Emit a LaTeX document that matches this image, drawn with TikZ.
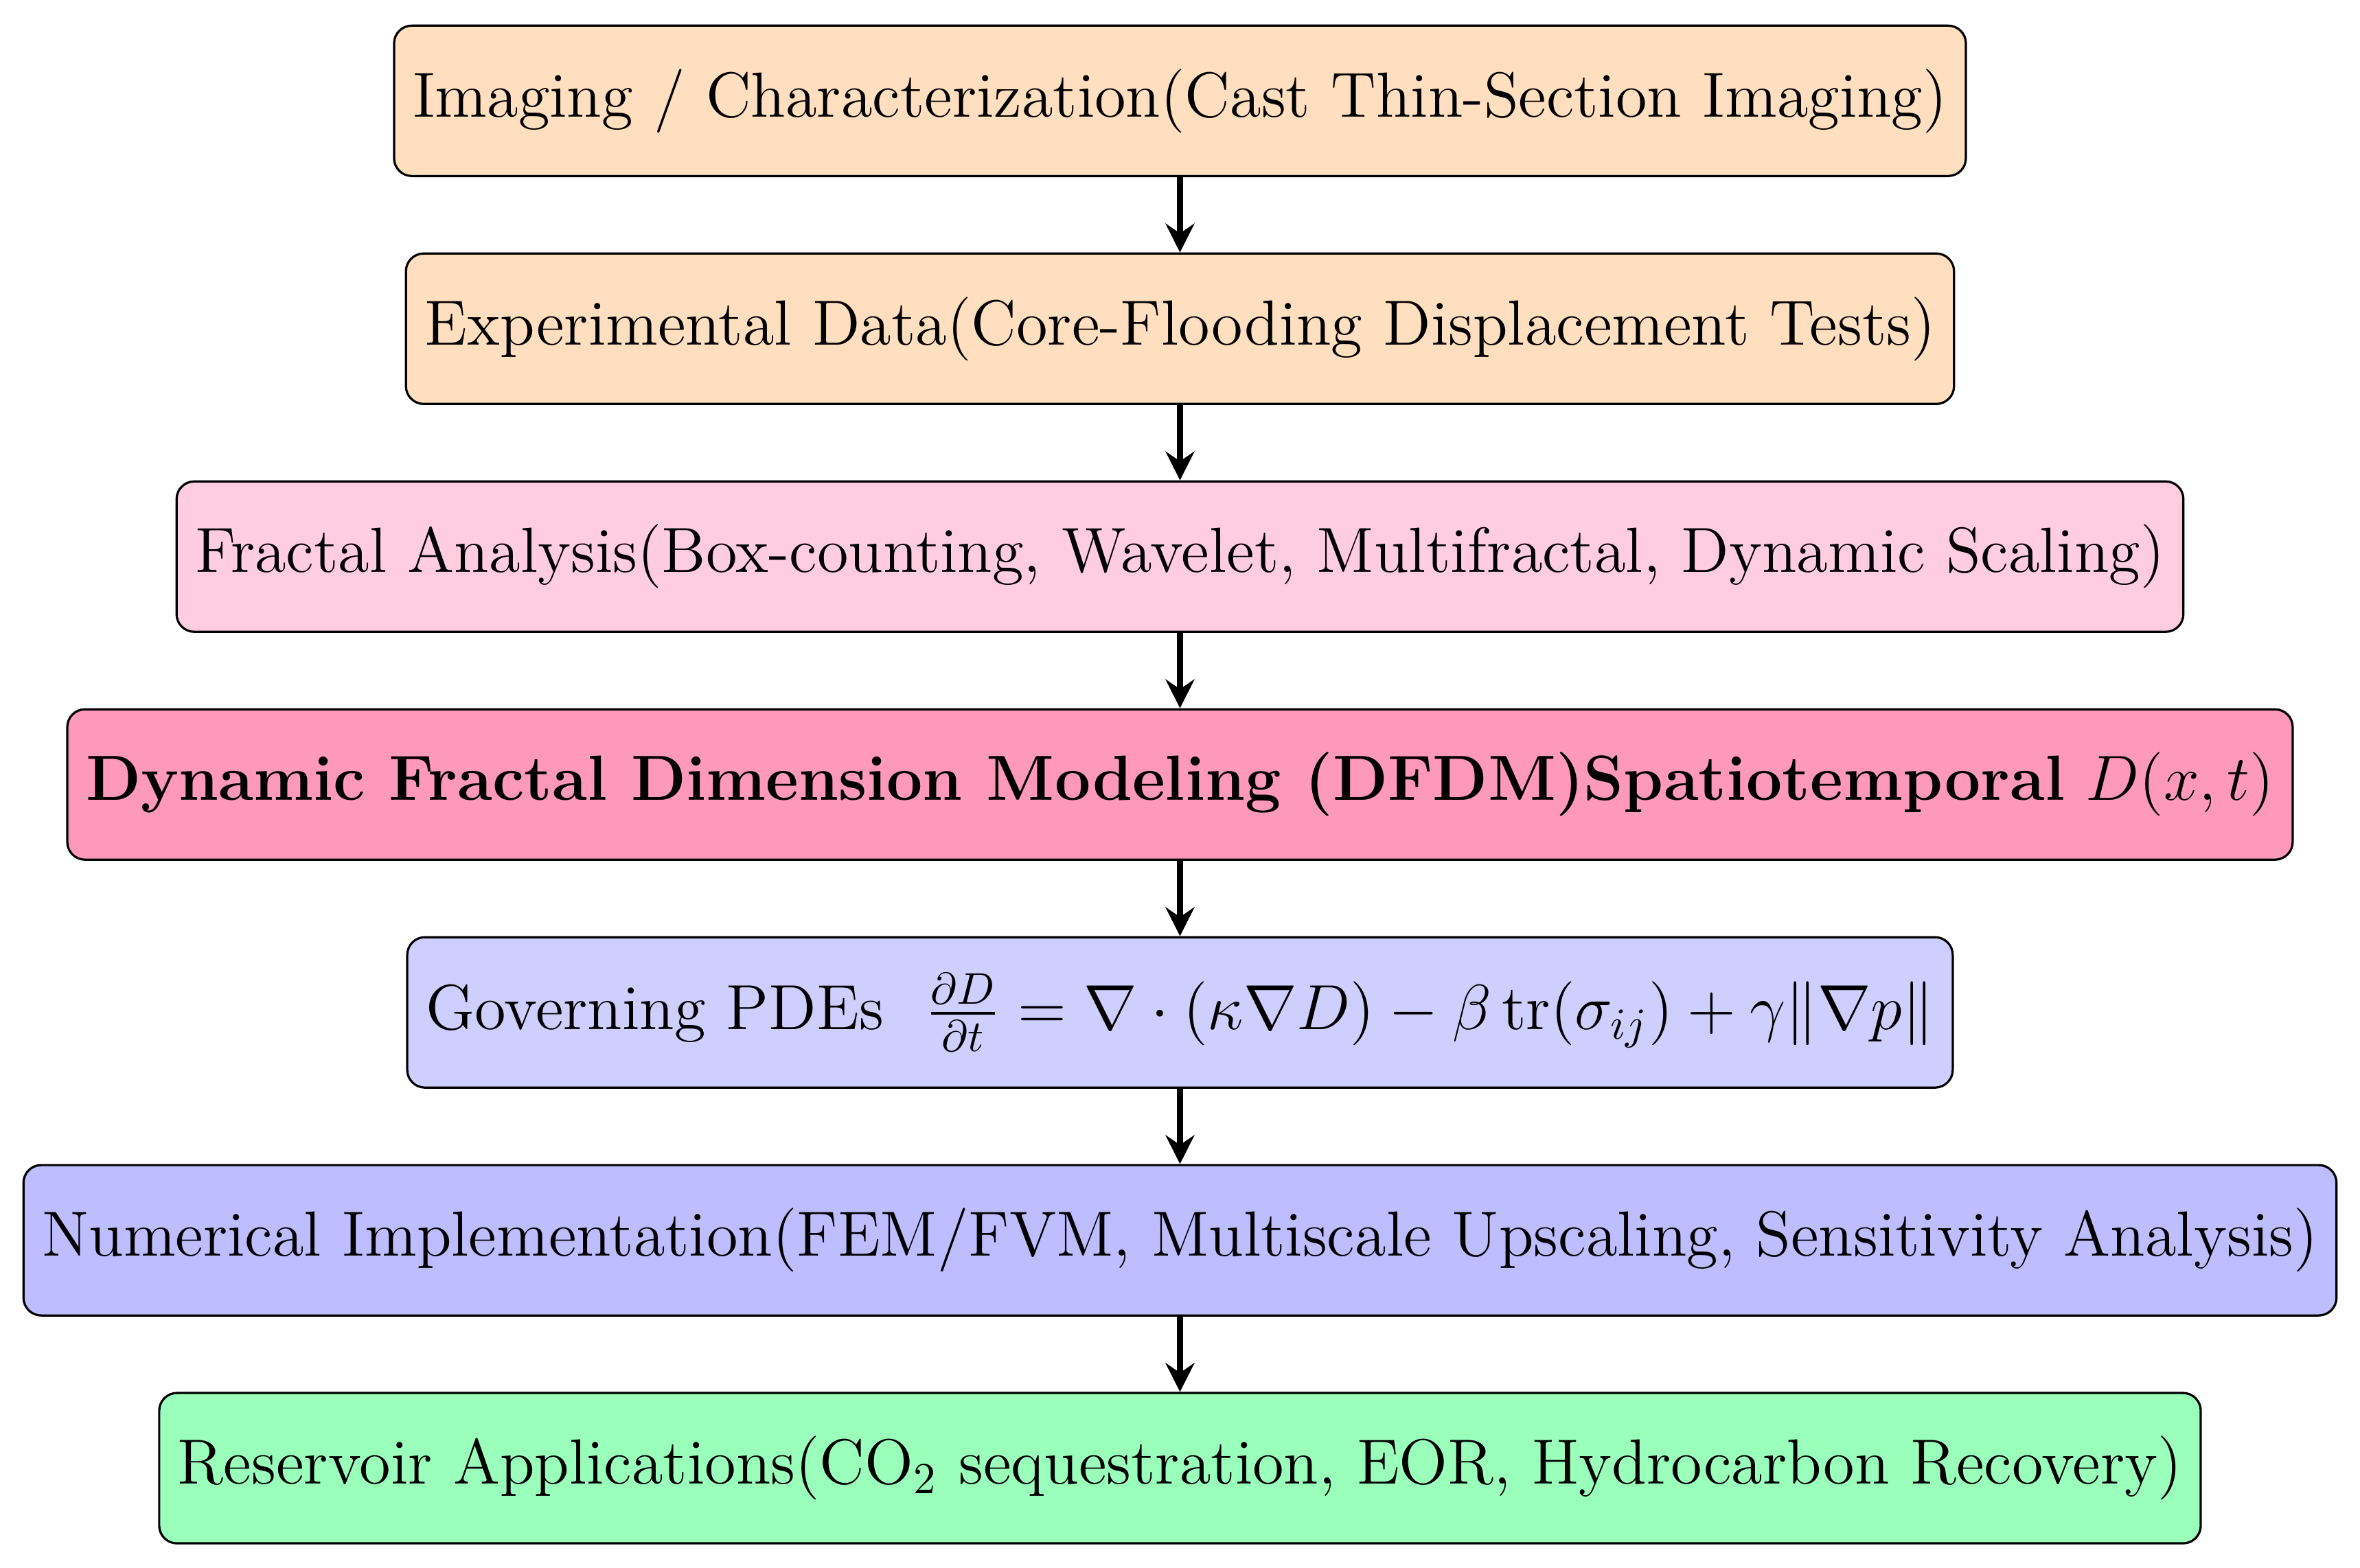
\documentclass[tikz,border=0pt]{standalone}
\usepackage{amsmath,amssymb}
\usetikzlibrary{positioning,arrows.meta}

\definecolor{imgcol}{RGB}{255,223,191}
\definecolor{fraccol}{RGB}{255,204,224}
\definecolor{dfdmcol}{RGB}{255,153,187}
\definecolor{pdecol}{RGB}{207,207,255}
\definecolor{numcol}{RGB}{189,189,255}
\definecolor{rescol}{RGB}{153,255,187}

\begin{document}
\begin{tikzpicture}[node distance=1.808cm, line width=0.5pt,
	stage/.style={rectangle, rounded corners, draw, minimum height=1.193cm, inner sep=4.2pt, font=\Large},
	link/.style={-{Stealth[length=6.5pt,width=6.5pt,inset=2.2pt]}, line width=1.3pt}]
	\useasboundingbox (-9.36,0.80) rectangle (9.36,-11.64);
	\node[stage, fill=imgcol] (img) at (0,0) {Imaging / Characterization(Cast Thin-Section Imaging)};
	\node[stage, fill=imgcol] (exp) [below of=img] {Experimental Data(Core-Flooding Displacement Tests)};
	\node[stage, fill=fraccol] (frac) [below of=exp] {Fractal Analysis(Box-counting, Wavelet, Multifractal, Dynamic Scaling)};
	\node[stage, fill=dfdmcol] (dfdm) [below of=frac] {\textbf{Dynamic Fractal Dimension Modeling (DFDM)Spatiotemporal} $D(x,t)$};
	\node[stage, fill=pdecol] (pde) [below of=dfdm] {Governing PDEs \ $\frac{\partial D}{\partial t} = \nabla\cdot(\kappa\nabla D) - \beta\,\mathrm{tr}(\sigma_{ij}) + \gamma\|\nabla p\|$};
	\node[stage, fill=numcol] (num) [below of=pde] {Numerical Implementation(FEM/FVM, Multiscale Upscaling, Sensitivity Analysis)};
	\node[stage, fill=rescol] (res) [below of=num] {Reservoir Applications(CO$_2$ sequestration, EOR, Hydrocarbon Recovery)};
	\path[link]
		(img) edge (exp)
		(exp) edge (frac)
		(frac) edge (dfdm)
		(dfdm) edge (pde)
		(pde) edge (num)
		(num) edge (res);
\end{tikzpicture}
\end{document}
